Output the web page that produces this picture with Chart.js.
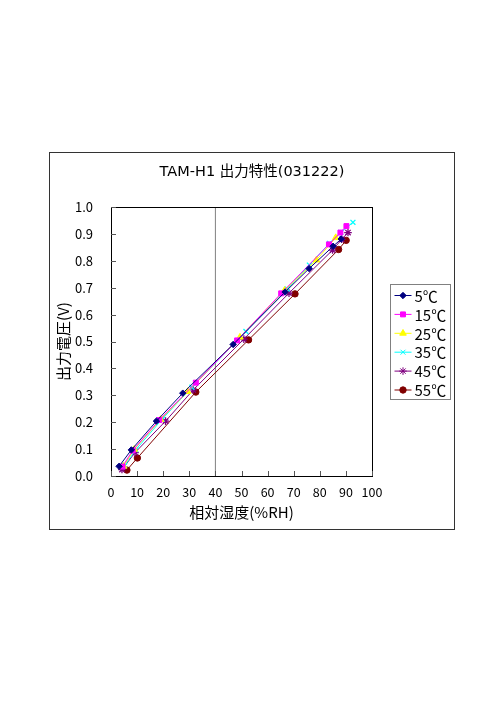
<!DOCTYPE html>
<html>
<head>
<meta charset="utf-8">
<script src="https://cdn.jsdelivr.net/npm/chart.js@4/dist/chart.umd.min.js"></script>
<style>
  html, body { margin: 0; padding: 0; background: #fff; }
  #frame {
    position: absolute; left: 49px; top: 152px;
    width: 406px; height: 378px; box-sizing: border-box;
    border: 1px solid #333;
  }
  #chart { display: block; }
</style>
</head>
<body>
<div id="frame"><canvas id="chart" width="404" height="376"></canvas></div>
<script>
// readings: humidity (%RH) and output (V) per temperature
const rh5  = [3.1, 7.8, 17.4, 27.5, 46.8, 66.7, 75.9, 85.1, 88.2];
const v5   = [0.036, 0.097, 0.204, 0.308, 0.489, 0.684, 0.771, 0.854, 0.881];
const rh15 = [4.4, 8.3, 18.5, 32.5, 48.3, 65.2, 83.5, 87.9, 90.2];
const v15  = [0.035, 0.095, 0.208, 0.347, 0.504, 0.679, 0.861, 0.905, 0.929];
const rh25 = [4.8, 8.9, 19.0, 29.4, 49.4, 66.5, 78.7, 86.1];
const v25  = [0.036, 0.099, 0.210, 0.314, 0.516, 0.690, 0.803, 0.886];
const rh35 = [5.2, 9.5, 19.6, 31.0, 51.7, 67.5, 76.0, 83.7, 88.0, 92.7];
const v35  = [0.038, 0.098, 0.211, 0.330, 0.537, 0.695, 0.784, 0.865, 0.905, 0.943];
const rh45 = [4.2, 9.2, 20.9, 31.5, 50.9, 68.2, 84.9, 88.4, 90.8];
const v45  = [0.024, 0.087, 0.204, 0.320, 0.509, 0.680, 0.840, 0.880, 0.905];
const rh55 = [6.1, 10.1, 32.5, 52.7, 70.5, 87.2, 90.1];
const v55  = [0.022, 0.067, 0.312, 0.506, 0.677, 0.842, 0.876];

const seriesNames = ['5℃', '15℃', '25℃', '35℃', '45℃', '55℃'];
const seriesColors = ['#000080', '#FF00FF', '#FFFF00', '#00FFFF', '#800080', '#800000'];
const seriesMarks = ['rectRot', 'rect', 'triangle', 'crossRot', 'star', 'circle'];
const markRadius = [3.2, 3.5, 3.8, 3.5, 3.8, 3.2];

const guideRH = [40, 40];     // grey vertical reference line
const guideV = [0, 1];

const chartTitle = 'TAM-H1 出力特性(031222)';
const font = '"Noto Sans CJK JP", "Noto Sans", sans-serif';

function pts(xs, ys) {
  return xs.map((x, i) => ({ x: x, y: ys[i] }));
}

const rhs = [rh5, rh15, rh25, rh35, rh45, rh55];
const vs = [v5, v15, v25, v35, v45, v55];

const datasets = seriesNames.map((name, i) => ({
  label: name,
  data: pts(rhs[i], vs[i]),
  borderColor: seriesColors[i],
  backgroundColor: seriesColors[i],
  borderWidth: 1,
  pointStyle: seriesMarks[i],
  pointRadius: markRadius[i],
  pointBorderWidth: seriesMarks[i] === 'crossRot' || seriesMarks[i] === 'star' ? 1.3 : 1,
  pointBorderColor: seriesColors[i],
  pointBackgroundColor: seriesColors[i],
  tension: 0
}));
datasets.push({
  label: 'guide',
  data: pts(guideRH, guideV),
  borderColor: '#808080',
  borderWidth: 1,
  pointRadius: 0,
  order: 10
});

// title over the whole frame, frame around the plot, inside ticks and the boxed legend
const plotDecor = {
  id: 'plotDecor',
  afterDraw(chart) {
    const ctx = chart.ctx;
    const a = chart.chartArea;
    const xs = chart.scales.x, ys = chart.scales.y;
    ctx.save();
    ctx.fillStyle = '#000';
    ctx.font = '14.5px "DejaVu Sans", ' + font;
    ctx.textAlign = 'center';
    ctx.textBaseline = 'middle';
    ctx.fillText(chartTitle, chart.width / 2, 19);

    ctx.strokeStyle = '#000';
    ctx.lineWidth = 1;
    ctx.strokeRect(Math.round(a.left) + 0.5, Math.round(a.top) + 0.5,
      Math.round(a.right - a.left), Math.round(a.bottom - a.top));
    ctx.strokeStyle = '#555';
    ctx.beginPath();
    xs.ticks.forEach(t => {
      const px = Math.round(xs.getPixelForValue(t.value)) + 0.5;
      ctx.moveTo(px, a.bottom);
      ctx.lineTo(px, a.bottom - 5);
    });
    ys.ticks.forEach(t => {
      const py = Math.round(ys.getPixelForValue(t.value)) + 0.5;
      ctx.moveTo(a.left, py);
      ctx.lineTo(a.left + 5, py);
    });
    ctx.stroke();

    // legend
    const lx = 340.5, ly = 131.5, lw = 60, lh = 115;
    ctx.strokeStyle = '#808080';
    ctx.strokeRect(lx, ly, lw, lh);
    ctx.font = '15px ' + font;
    ctx.textAlign = 'left';
    ctx.textBaseline = 'middle';
    seriesNames.forEach((name, i) => {
      const cy = ly + 11 + i * 18.9;
      ctx.strokeStyle = seriesColors[i];
      ctx.lineWidth = 1;
      ctx.beginPath();
      ctx.moveTo(lx + 4, cy);
      ctx.lineTo(lx + 21, cy);
      ctx.stroke();
      ctx.fillStyle = seriesColors[i];
      Chart.helpers.drawPoint(ctx, {
        pointStyle: seriesMarks[i], radius: markRadius[i], rotation: 0,
        borderWidth: 1
      }, lx + 12.5, cy);
      ctx.fillStyle = '#000';
      ctx.fillText(name, lx + 24, cy + 0.5);
    });
    ctx.restore();
  }
};

new Chart(document.getElementById('chart'), {
  type: 'line',
  data: { datasets: datasets },
  options: {
    responsive: false,
    animation: false,
    devicePixelRatio: 1,
    layout: { padding: { left: 0, right: 82, top: 54, bottom: 0 } },
    plugins: {
      legend: { display: false },
      tooltip: { enabled: false },
      title: { display: false }
    },
    scales: {
      x: {
        type: 'linear',
        min: 0, max: 100,
        afterFit(s) { s.height = 53; },
        grid: { display: false, drawTicks: false },
        border: { display: false },
        ticks: {
          stepSize: 10, padding: 9, color: '#000', maxRotation: 0,
          font: { family: font, size: 12.5 }
        },
        title: {
          display: true, text: '相対湿度(%RH)', color: '#000',
          font: { family: font, size: 15 },
          padding: { top: 0, bottom: 8 }
        }
      },
      y: {
        type: 'linear',
        min: 0, max: 1,
        afterFit(s) { s.width = 61; },
        grid: { display: false, drawTicks: false },
        border: { display: false },
        ticks: {
          stepSize: 0.1, padding: 18, color: '#000',
          font: { family: font, size: 13 },
          callback: v => v.toFixed(1)
        },
        title: {
          display: true, text: '出力電圧(V)', color: '#000',
          font: { family: font, size: 15 },
          padding: { top: 4, bottom: 0 }
        }
      }
    }
  },
  plugins: [plotDecor]
});
</script>
</body>
</html>
